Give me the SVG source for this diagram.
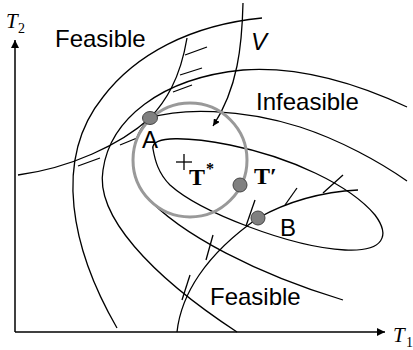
<svg xmlns="http://www.w3.org/2000/svg" width="413" height="350" viewBox="0 0 413 350">
<style>
.c{fill:none;stroke:#000;stroke-width:1.3}
.ax{fill:none;stroke:#000;stroke-width:1.5}
.dot{fill:#808080;stroke:#444;stroke-width:1}
.lbl{font-family:"Liberation Sans",Arial,sans-serif;font-size:24px;fill:#000}
.ser{font-family:"Liberation Serif","Times New Roman",serif;fill:#000}
</style>
<defs>
<marker id="ah" viewBox="0 0 10 10" refX="10" refY="5" markerWidth="7" markerHeight="7" orient="auto" markerUnits="userSpaceOnUse">
<path d="M0,0 L10,5 L0,10 Z" fill="#000"/>
</marker>
<marker id="axh" viewBox="0 0 10 10" refX="10" refY="5" markerWidth="9" markerHeight="8" orient="auto" markerUnits="userSpaceOnUse">
<path d="M0,0 L10,5 L0,10 Z" fill="#000"/>
</marker>
</defs>
<g id="axes">
<line class="ax" x1="15" y1="332" x2="15" y2="40" marker-end="url(#axh)"/>
<line class="ax" x1="15" y1="332" x2="385" y2="332" marker-end="url(#axh)"/>
<text class="ser" x="6" y="28" font-size="21" font-style="italic">T</text>
<text class="ser" x="18" y="33" font-size="14">2</text>
<text class="ser" x="393" y="342" font-size="21" font-style="italic">T</text>
<text class="ser" x="406" y="347" font-size="14">1</text>
</g>
<g id="connectors">
<path class="c" d="M117,328 C72,250 52,160 103,97 C135,55 190,25 262,18"/>
<path class="c" d="M237,332 C150,275 95,215 103,170 C110,120 160,78 243,70 C300,66 360,85 407,107"/>
<path class="c" d="M18,175 C70,168 120,145 150,118 C180,108 240,108 300,127 C340,140 380,162 407,181"/>
<path class="c" d="M150,118 C132,135 125,170 145,195 C180,235 260,275 343,300"/>
<path class="c" d="M153,149 C150,135 190,137 230,145 C290,157 350,185 375,215 C390,235 385,252 345,250 C290,247 200,212 170,185 C158,173 155,160 153,149 Z"/>
<path class="c" d="M150,118 C165,102 180,80 187,38"/>
<line class="c" x1="185" y1="55" x2="207" y2="47"/>
<line class="c" x1="180" y1="75" x2="202" y2="68"/>
<line class="c" x1="173" y1="92" x2="192" y2="85"/>
<line class="c" x1="78" y1="166" x2="100" y2="158"/>
<line class="c" x1="120" y1="145" x2="137" y2="138"/>
<path class="c" d="M177,332 C181,295 205,255 258,218 C285,203 320,192 358,190"/>
<line class="c" x1="182" y1="300" x2="190" y2="275"/>
<line class="c" x1="206" y1="260" x2="213" y2="235"/>
<line class="c" x1="246" y1="226" x2="255" y2="200"/>
<line class="c" x1="285" y1="205" x2="297" y2="188"/>
<line class="c" x1="323" y1="193" x2="343" y2="175"/>
<path class="c" d="M243,3 C242,45 238,88 213,126" marker-end="url(#ah)"/>
<circle cx="190" cy="160" r="57" fill="none" stroke="#999" stroke-width="3"/>
<line class="c" x1="176" y1="162" x2="192" y2="162"/>
<line class="c" x1="184" y1="154" x2="184" y2="170"/>
</g>
<g id="nodeA">
<ellipse class="dot" cx="150" cy="118" rx="7.5" ry="6.5"/>
<text class="lbl" x="142" y="148" font-size="23">A</text>
</g>
<g id="nodeTp">
<circle class="dot" cx="240" cy="185" r="7"/>
<text class="ser" x="254" y="184" font-size="24" font-weight="bold">T′</text>
</g>
<g id="nodeB">
<circle class="dot" cx="258" cy="218" r="7"/>
<text class="lbl" x="280" y="236" font-size="23">B</text>
</g>
<g id="nodeTs">
<text class="ser" x="189" y="185" font-size="24" font-weight="bold">T</text>
<text class="ser" x="206" y="174" font-size="16" font-weight="bold">*</text>
</g>
<g id="labels">
<text class="lbl" x="55" y="47">Feasible</text>
<text class="lbl" x="256" y="110">Infeasible</text>
<text class="lbl" x="210" y="305">Feasible</text>
<text class="lbl" x="251" y="50" font-style="italic">V</text>
</g>
</svg>
